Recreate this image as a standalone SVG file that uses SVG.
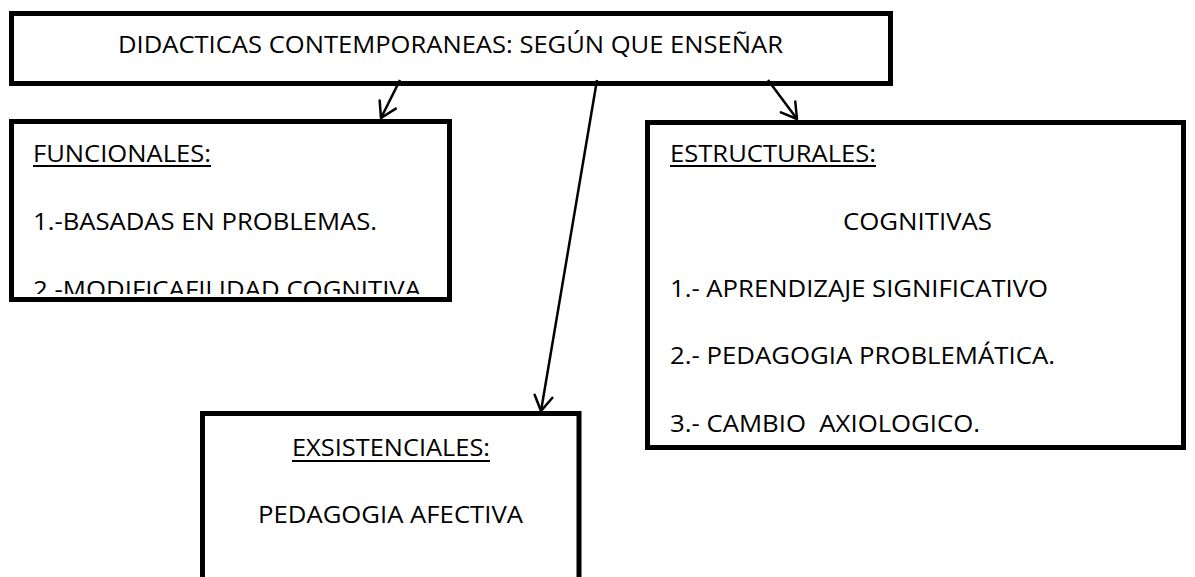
<svg xmlns="http://www.w3.org/2000/svg" width="1195" height="577" viewBox="0 0 1195 577">
<style>
.box{fill:#fff;stroke:#000;stroke-width:5}
.t{font-family:"Open Sans","Noto Sans","Liberation Sans",sans-serif;font-size:24.5px;fill:#000}
.u{stroke:#000;stroke-width:2}
.c{fill:none;stroke:#000;stroke-width:2.5}
</style>
<defs>
<marker id="ah" markerUnits="userSpaceOnUse" markerWidth="30" markerHeight="30" viewBox="-20 -15 30 30" refX="0" refY="0" orient="auto" overflow="visible">
<path d="M-15,-9 L0,0 L-15,9" fill="none" stroke="#000" stroke-width="2.5" stroke-linejoin="round" stroke-linecap="round"/>
</marker>
<clipPath id="clipF"><rect x="14" y="124" width="433" height="170"/></clipPath>
</defs>
<rect width="1195" height="577" fill="#fff"/>
<g id="node-title">
<rect class="box" x="11.5" y="13.5" width="879" height="70"/>
<text class="t" x="118" y="53" textLength="665" lengthAdjust="spacingAndGlyphs">DIDACTICAS CONTEMPORANEAS: SEGÚN QUE ENSEÑAR</text>
</g>
<g id="node-funcionales">
<rect class="box" x="11.5" y="121.5" width="438" height="178"/>
<text class="t" x="33" y="162" textLength="178" lengthAdjust="spacingAndGlyphs">FUNCIONALES:</text>
<line class="u" x1="33" y1="166" x2="211" y2="166"/>
<text class="t" x="33" y="230" textLength="344" lengthAdjust="spacingAndGlyphs">1.-BASADAS EN PROBLEMAS.</text>
<g clip-path="url(#clipF)">
<text class="t" x="33" y="298" textLength="388" lengthAdjust="spacingAndGlyphs">2.-MODIFICAFILIDAD COGNITIVA</text>
</g>
</g>
<g id="node-estructurales">
<rect class="box" x="647.5" y="122.5" width="536" height="325"/>
<text class="t" x="670" y="162" textLength="206" lengthAdjust="spacingAndGlyphs">ESTRUCTURALES:</text>
<line class="u" x1="670" y1="166" x2="876" y2="166"/>
<text class="t" x="843" y="230" textLength="149" lengthAdjust="spacingAndGlyphs">COGNITIVAS</text>
<text class="t" x="670" y="297" textLength="378" lengthAdjust="spacingAndGlyphs">1.- APRENDIZAJE SIGNIFICATIVO</text>
<text class="t" x="670" y="364" textLength="385" lengthAdjust="spacingAndGlyphs">2.- PEDAGOGIA PROBLEMÁTICA.</text>
<text class="t" x="670" y="432" textLength="310" lengthAdjust="spacingAndGlyphs" xml:space="preserve" style="white-space:pre">3.- CAMBIO  AXIOLOGICO.</text>
</g>
<g id="node-exsistenciales">
<rect class="box" x="202.5" y="413.5" width="376.5" height="200"/>
<text class="t" x="292" y="456" textLength="198" lengthAdjust="spacingAndGlyphs">EXSISTENCIALES:</text>
<line class="u" x1="292" y1="461" x2="490" y2="461"/>
<text class="t" x="258" y="523" textLength="265" lengthAdjust="spacingAndGlyphs">PEDAGOGIA AFECTIVA</text>
</g>
<g id="connectors">
<line class="c" x1="400" y1="80" x2="381" y2="118" marker-end="url(#ah)"/>
<line class="c" x1="597" y1="80" x2="541" y2="411" marker-end="url(#ah)"/>
<line class="c" x1="768" y1="80" x2="797" y2="119" marker-end="url(#ah)"/>
</g>
</svg>
